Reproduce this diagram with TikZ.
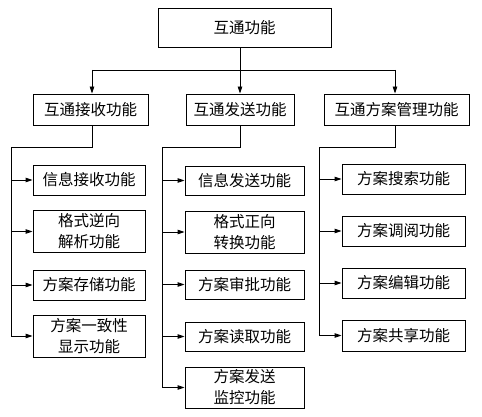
\documentclass[tikz,border=0pt]{standalone}
\usepackage{fontspec}
\newfontfamily\cjk{Noto Sans CJK SC}
\usetikzlibrary{arrows.meta}
\begin{document}
\begin{tikzpicture}[x=1pt,y=-1pt,
  box/.style={draw,line width=0.9pt,inner sep=0pt,align=center,
    font=\cjk\fontsize{15.5}{21}\selectfont},
  one/.style={box,minimum height=30pt},
  two/.style={box,minimum height=42pt},
  wire/.style={line width=0.9pt},
  arr/.style={wire,-{Triangle[length=7pt,width=4.5pt]}}]
\path[use as bounding box] (0,0) rectangle (482,417);
% top
\node[box,minimum width=173pt,minimum height=39pt] (top) at (244.5,27.5) {互通功能};
% second level
\node[one,minimum width=115pt,minimum height=31pt] (b1) at (90.5,109.5) {互通接收功能};
\node[one,minimum width=108pt,minimum height=31pt] (b2) at (240,109.5) {互通发送功能};
\node[one,minimum width=145pt,minimum height=31pt] (b3) at (396.5,109.5) {互通方案管理功能};
\coordinate (bus) at (92,70);
\coordinate (bus3) at (395,70);
\draw[arr] (top.south -| b2.north) -- (b2.north);
\draw[wire] (bus) -- (bus3);
\draw[arr] (bus) -- (bus |- b1.north);
\draw[arr] (bus3) -- (bus3 |- b3.north);
% column 1
\node[one,minimum width=112pt] (a1) at (89,180) {信息接收功能};
\node[two,minimum width=112pt] (a2) at (89,231.5) {格式逆向\\解析功能};
\node[one,minimum width=112pt] (a3) at (89,285) {方案存储功能};
\node[two,minimum width=112pt] (a4) at (89,336) {方案一致性\\显示功能};
% column 2
\node[one,minimum width=119pt,minimum height=29pt] (s1) at (244.5,180.5) {信息发送功能};
\node[two,minimum width=119pt] (s2) at (244.5,232) {格式正向\\转换功能};
\node[one,minimum width=119pt,minimum height=29pt] (s3) at (244.5,284.5) {方案审批功能};
\node[one,minimum width=119pt,minimum height=29pt] (s4) at (244.5,336.5) {方案读取功能};
\node[two,minimum width=119pt,minimum height=41pt] (s5) at (244.5,387.5) {方案发送\\监控功能};
% column 3
\node[one,minimum width=123pt] (m1) at (403.5,179) {方案搜索功能};
\node[one,minimum width=123pt] (m2) at (403.5,231) {方案调阅功能};
\node[one,minimum width=123pt] (m3) at (403.5,283) {方案编辑功能};
\node[one,minimum width=123pt,minimum height=31pt] (m4) at (403.5,335.5) {方案共享功能};
% trunks
\coordinate (t1) at (11,147);
\coordinate (t2) at (162,147);
\coordinate (t3) at (319,147);
\draw[wire] (bus |- b1.south) -- (bus |- t1) -- (t1) -- (t1 |- a4.west);
\draw[wire] (b2.south) -- (b2.south |- t2) -- (t2) -- (t2 |- s5.west);
\draw[wire] (bus3 |- b3.south) -- (bus3 |- t3) -- (t3) -- (t3 |- m4.west);
% branches
\foreach \n in {a1,a2,a3,a4} \draw[arr] (t1 |- \n.west) -- (\n.west);
\foreach \n in {s1,s2,s3,s4,s5} \draw[arr] (t2 |- \n.west) -- (\n.west);
\foreach \n in {m1,m2,m3,m4} \draw[arr] (t3 |- \n.west) -- (\n.west);
\end{tikzpicture}
\end{document}
